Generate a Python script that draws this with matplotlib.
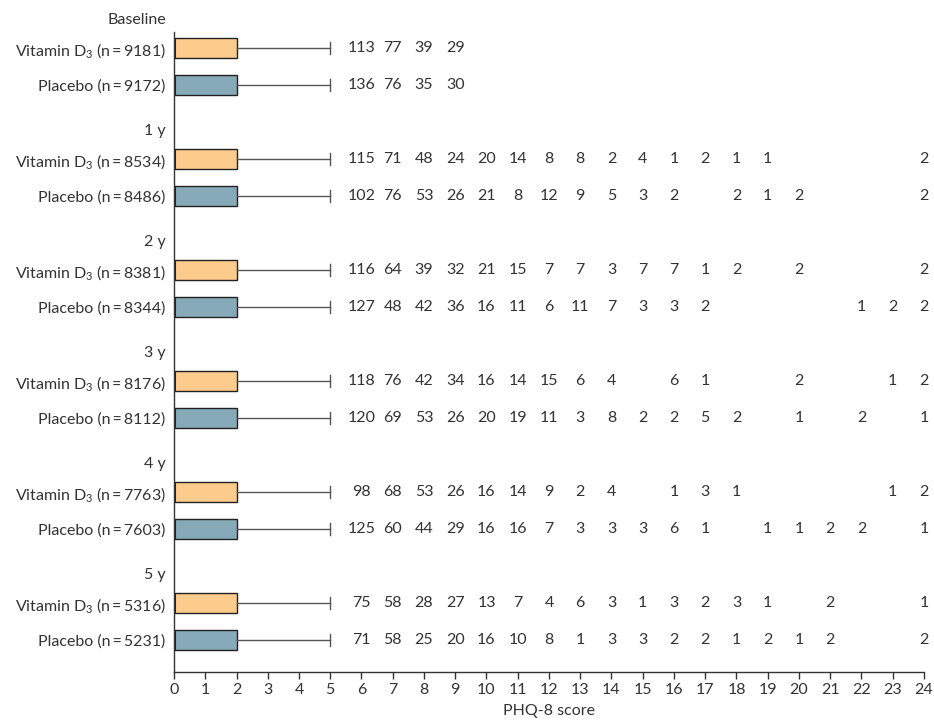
import matplotlib
matplotlib.use("Agg")
import matplotlib.pyplot as plt

plt.rcParams['font.family'] = ['Lato', 'DejaVu Sans']
plt.rcParams['mathtext.fontset'] = 'custom'
plt.rcParams['mathtext.rm'] = 'Lato'
plt.rcParams['mathtext.it'] = 'Lato'

groups = ["Baseline", "1 y", "2 y", "3 y", "4 y", "5 y"]
n_vitd = [9181, 8534, 8381, 8176, 7763, 5316]
n_placebo = [9172, 8486, 8344, 8112, 7603, 5231]

scores = list(range(6, 25))
N = None
counts_vitd = [
    [113, 77, 39, 29, N, N, N, N, N, N, N, N, N, N, N, N, N, N, N],
    [115, 71, 48, 24, 20, 14, 8, 8, 2, 4, 1, 2, 1, 1, N, N, N, N, 2],
    [116, 64, 39, 32, 21, 15, 7, 7, 3, 7, 7, 1, 2, N, 2, N, N, N, 2],
    [118, 76, 42, 34, 16, 14, 15, 6, 4, N, 6, 1, N, N, 2, N, N, 1, 2],
    [98, 68, 53, 26, 16, 14, 9, 2, 4, N, 1, 3, 1, N, N, N, N, 1, 2],
    [75, 58, 28, 27, 13, 7, 4, 6, 3, 1, 3, 2, 3, 1, N, 2, N, N, 1],
]
counts_placebo = [
    [136, 76, 35, 30, N, N, N, N, N, N, N, N, N, N, N, N, N, N, N],
    [102, 76, 53, 26, 21, 8, 12, 9, 5, 3, 2, N, 2, 1, 2, N, N, N, 2],
    [127, 48, 42, 36, 16, 11, 6, 11, 7, 3, 3, 2, N, N, N, N, 1, 2, 2],
    [120, 69, 53, 26, 20, 19, 11, 3, 8, 2, 2, 5, 2, N, 1, N, 2, N, 1],
    [125, 60, 44, 29, 16, 16, 7, 3, 3, 3, 6, 1, N, 1, 1, 2, 2, N, 1],
    [71, 58, 25, 20, 16, 10, 8, 1, 3, 3, 2, 2, 1, 2, 1, 2, N, N, 2],
]

# box-plot summary statistics (same for both arms, all time points)
q1_vals = [0, 0, 0, 0, 0, 0]
median_vals = [0, 0, 0, 0, 0, 0]
q3_vals = [2, 2, 2, 2, 2, 2]
whisker_hi = [5, 5, 5, 5, 5, 5]

color_vitd = "#FDCB8B"
color_placebo = "#86AAB7"
text_color = "#333333"
FS = 11.5

fig = plt.figure(figsize=(9.34, 7.24), dpi=100)
ax = fig.add_axes([174 / 934, 1 - 672 / 724, 750 / 934, (672 - 32) / 724])

stats, positions, colors, labels = [], [], [], []
for g in range(len(groups)):
    for arm, (n, col, name) in enumerate([(n_vitd[g], color_vitd, r"Vitamin D$_3$"),
                                          (n_placebo[g], color_placebo, "Placebo")]):
        stats.append(dict(med=median_vals[g], q1=q1_vals[g], q3=q3_vals[g],
                          whislo=q1_vals[g], whishi=whisker_hi[g], fliers=[]))
        positions.append(g * 3 + arm)
        colors.append(col)
        labels.append(f"{name} (n\u2009=\u2009{n})")

bp = ax.bxp(stats, positions=positions, vert=False, widths=0.54, capwidths=0.32,
            patch_artist=True, showfliers=False,
            boxprops=dict(edgecolor="#222222", linewidth=1.0),
            medianprops=dict(color="#222222", linewidth=2.2),
            whiskerprops=dict(color="#555555", linewidth=1.0),
            capprops=dict(color="#555555", linewidth=1.0))
for patch, col in zip(bp['boxes'], colors):
    patch.set_facecolor(col)

# counts per score
for g in range(len(groups)):
    for arm, row in enumerate([counts_vitd[g], counts_placebo[g]]):
        y = g * 3 + arm
        for s, c in zip(scores, row):
            if c is not None:
                ax.text(s, y, str(c), ha="center", va="center", fontsize=FS,
                        color=text_color)

# group headers
for g, name in enumerate(groups):
    ax.annotate(name, xy=(0, g * 3 - 0.76), xycoords=("axes fraction", "data"),
                xytext=(-6, 0), textcoords="offset points", ha="right", va="center",
                fontsize=FS, color=text_color, annotation_clip=False)

ax.set_yticks(positions)
ax.set_yticklabels(labels)
ax.tick_params(axis="y", length=0, pad=6, labelsize=FS, labelcolor=text_color)
ax.set_xlim(0, 24)
ax.set_ylim(16.86, -0.43)
ax.set_xticks(range(0, 25))
ax.tick_params(axis="x", length=5, width=1, color="#333333", labelsize=FS,
               labelcolor=text_color, pad=3)
ax.set_xlabel("PHQ-8 score", fontsize=FS, color=text_color, labelpad=5)
for side in ["top", "right"]:
    ax.spines[side].set_visible(False)
for side in ["left", "bottom"]:
    ax.spines[side].set_color("#333333")
    ax.spines[side].set_linewidth(1.0)

fig.savefig("out.png", dpi=100)
